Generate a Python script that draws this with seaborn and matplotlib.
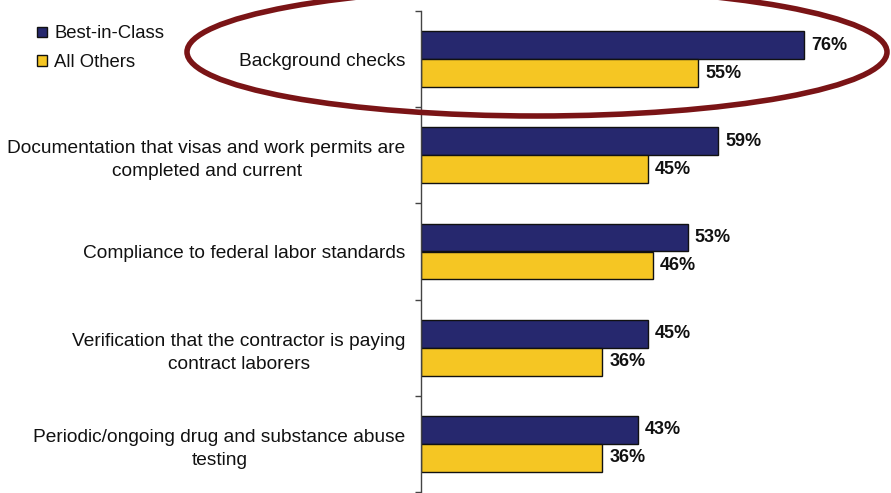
import matplotlib
matplotlib.use("Agg")
import matplotlib.pyplot as plt
from matplotlib.patches import Ellipse, Patch
import seaborn as sns
import pandas as pd

categories = [
    "Background checks",
    "Documentation that visas and work permits are\ncompleted and current",
    "Compliance to federal labor standards",
    "Verification that the contractor is paying\ncontract laborers",
    "Periodic/ongoing drug and substance abuse\ntesting",
]
series_names = ["Best-in-Class", "All Others"]
best_in_class = [76, 59, 53, 45, 43]
all_others = [55, 45, 46, 36, 36]
colors = ["#26286E", "#F5C623"]

df = pd.DataFrame({
    "practice": categories * 2,
    "group": [series_names[0]] * len(categories) + [series_names[1]] * len(categories),
    "pct": best_in_class + all_others,
})

sns.set_theme(style="white")
plt.rcParams["font.family"] = ["Liberation Sans", "DejaVu Sans"]

fig = plt.figure(figsize=(8.91, 4.93), dpi=100)
ax = fig.add_axes([421 / 891, 1 - 492 / 493, 1 - 421 / 891, (492 - 11) / 493])

sns.barplot(
    data=df, y="practice", x="pct", hue="group", order=categories,
    hue_order=series_names, palette=colors, orient="h", width=0.58,
    edgecolor="#111111", linewidth=1.0, legend=False, ax=ax, saturation=1,
)

for container in ax.containers:
    ax.bar_label(container, fmt="%d%%", padding=5, fontsize=13,
                 fontweight="bold", color="#111111")

ax.set_xlim(0, 93.3)
ax.set_ylim(len(categories) - 0.5, -0.5)
ax.set_xlabel("")
ax.set_ylabel("")
ax.set_xticks([])

# category labels on major ticks, boundary marks on minor ticks
ax.set_yticks(range(len(categories)))
ax.set_yticklabels(categories, fontsize=13.8, color="#111111",
                   multialignment="center", linespacing=1.45)
ax.tick_params(axis="y", which="major", length=0, pad=11)
ax.set_yticks([i - 0.5 for i in range(len(categories) + 1)], minor=True)
ax.tick_params(axis="y", which="minor", length=4, width=1, color="#444444", direction="out", left=True)

for side in ["top", "right", "bottom"]:
    ax.spines[side].set_visible(False)
ax.spines["left"].set_color("#444444")
ax.spines["left"].set_linewidth(1)

handles = [Patch(facecolor=c, edgecolor="#111111", linewidth=1) for c in colors]
fig.legend(handles, series_names, loc="upper left", bbox_to_anchor=(30 / 891, 1 - 18 / 493),
           frameon=False, fontsize=13.3, handlelength=0.5, handleheight=0.5,
           handletextpad=0.4, labelspacing=0.62, borderaxespad=0,
           labelcolor="#111111")

# highlight ring around the first item
ring = Ellipse((537 / 891, 1 - 52 / 493), 700 / 891, 128 / 493,
               transform=fig.transFigure, fill=False, edgecolor="#7A1416",
               linewidth=4.0, clip_on=False)
fig.add_artist(ring)

fig.savefig("out.png", dpi=100)
